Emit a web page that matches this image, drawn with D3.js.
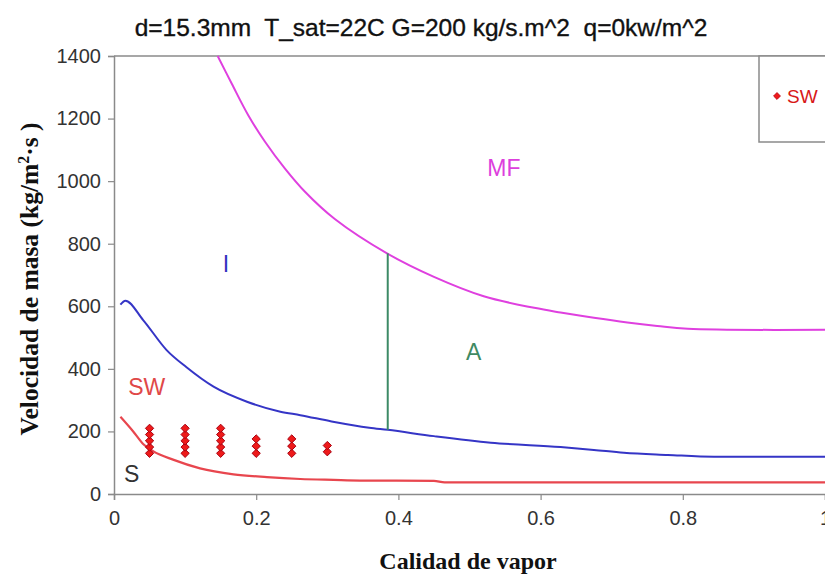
<!DOCTYPE html>
<html>
<head>
<meta charset="utf-8">
<script src="https://cdn.jsdelivr.net/npm/d3@7"></script>
<style>
  body { margin: 0; background: #fff; }
  svg { display: block; }
  text { white-space: pre; }
</style>
</head>
<body>
<svg id="chart" width="825" height="576"></svg>
<script>
// Flow pattern map: mass velocity vs. vapour quality
const titleText = "d=15.3mm  T_sat=22C G=200 kg/s.m^2  q=0kw/m^2";
const xTickValues = [0, 0.2, 0.4, 0.6, 0.8, 1];
const yTickValues = [0, 200, 400, 600, 800, 1000, 1200, 1400];

// Mist-flow (MF) boundary
const mfQuality = [0.1458, 0.1655, 0.189, 0.2124, 0.2405, 0.2686, 0.311, 0.384, 0.45, 0.52, 0.591, 0.628, 0.675, 0.722, 0.764, 0.807, 1.0];
const mfMass    = [1400, 1312, 1210, 1126, 1040, 966, 878, 769, 694, 632, 595, 580, 563, 548, 537, 528, 525];

// Intermittent / annular lower boundary (blue)
const iaQuality = [0.009, 0.016, 0.041, 0.074, 0.102, 0.14, 0.187, 0.234, 0.262, 0.306, 0.359, 0.385, 0.45, 0.53, 0.628, 0.675, 0.717, 0.779, 0.844, 1.0];
const iaMass    = [605, 618, 556, 460, 405, 343, 295, 263, 252, 232, 212, 205, 185, 164, 150, 141, 132, 125, 119, 119];

// Stratified / stratified-wavy boundary (red)
const sQuality = [0.009, 0.027, 0.041, 0.055, 0.084, 0.121, 0.168, 0.215, 0.262, 0.309, 0.346, 0.45, 0.465, 1.0];
const sMass    = [247, 200, 160, 137, 109, 82, 63, 54, 48, 45, 43, 42, 37, 37];

// Intermittent-to-annular transition (vertical)
const transitionQuality = 0.385;
const transitionMass = [205, 769];

// Observed stratified-wavy points
const swQuality = [0.05, 0.05, 0.05, 0.05, 0.05,
                   0.1, 0.1, 0.1, 0.1, 0.1,
                   0.15, 0.15, 0.15, 0.15, 0.15,
                   0.2, 0.2, 0.2,
                   0.25, 0.25, 0.25,
                   0.3, 0.3];
const swMass    = [130, 150, 170, 190, 210,
                   130, 150, 170, 190, 210,
                   130, 150, 170, 190, 210,
                   130, 153, 176,
                   130, 153, 176,
                   135, 155];

// Region labels
const regionNames = ["MF", "I", "A", "SW", "S"];
const regionQuality = [0.525, 0.153, 0.495, 0.02, 0.014];
const regionMass = [1018, 710, 428, 316, 38];
const regionColors = ["#dd3fdd", "#3434c0", "#3f8a62", "#e04848", "#333333"];

const svg = d3.select("#chart");
const plotLeft = 114, plotRight = 825, plotTop = 56, plotBottom = 494;

const x = d3.scaleLinear().domain([0, 1]).range([plotLeft, plotRight]);
const y = d3.scaleLinear().domain([0, 1400]).range([plotBottom, plotTop]);

const axisColor = "#8a8a8a";

// plot frame (top edge)
svg.append("line")
  .attr("x1", plotLeft).attr("x2", plotRight)
  .attr("y1", plotTop).attr("y2", plotTop)
  .attr("stroke", axisColor).attr("stroke-width", 1.5);

// axes
const xAxis = d3.axisBottom(x).tickValues(xTickValues).tickSize(6).tickPadding(11)
  .tickFormat(d => String(d));
const yAxis = d3.axisLeft(y).tickValues(yTickValues).tickSize(6).tickPadding(7)
  .tickFormat(d => String(d));

const gx = svg.append("g").attr("transform", `translate(0,${plotBottom})`).call(xAxis);
const gy = svg.append("g").attr("transform", `translate(${plotLeft},0)`).call(yAxis);
[gx, gy].forEach(g => {
  g.select(".domain").attr("stroke", axisColor).attr("stroke-width", 1.5);
  g.selectAll(".tick line").attr("stroke", axisColor).attr("stroke-width", 1.2);
  g.selectAll(".tick text")
    .attr("fill", "#333")
    .style("font-family", "'Liberation Sans', Arial, sans-serif")
    .style("font-size", "20px");
});

// legend box
svg.append("rect")
  .attr("x", 759).attr("y", plotTop).attr("width", 80).attr("height", 86)
  .attr("fill", "#fff").attr("stroke", axisColor).attr("stroke-width", 1.5);

// curves
function drawCurve(xs, ys, color, width, curve) {
  const line = d3.line().x(d => x(d[0])).y(d => y(d[1])).curve(curve);
  svg.append("path")
    .datum(xs.map((v, i) => [v, ys[i]]))
    .attr("d", line)
    .attr("fill", "none")
    .attr("stroke", color)
    .attr("stroke-width", width)
    .attr("stroke-linejoin", "round");
}
drawCurve(mfQuality, mfMass, "#df40df", 2, d3.curveCatmullRom.alpha(0.5));
drawCurve(iaQuality, iaMass, "#3535c6", 2, d3.curveMonotoneX);
drawCurve(sQuality, sMass, "#e8464e", 2.2, d3.curveMonotoneX);

svg.append("line")
  .attr("x1", x(transitionQuality)).attr("x2", x(transitionQuality))
  .attr("y1", y(transitionMass[0])).attr("y2", y(transitionMass[1]))
  .attr("stroke", "#3c8a66").attr("stroke-width", 2);

// diamond marker
const diamond = {
  draw(ctx, size) {
    const r = Math.sqrt(size / 2);
    ctx.moveTo(0, -r); ctx.lineTo(r, 0); ctx.lineTo(0, r); ctx.lineTo(-r, 0); ctx.closePath();
  }
};
const sym = d3.symbol().type(diamond).size(34);

svg.append("g").selectAll("path")
  .data(swQuality.map((v, i) => [v, swMass[i]]))
  .join("path")
  .attr("d", sym)
  .attr("transform", d => `translate(${x(d[0])},${y(d[1])})`)
  .attr("fill", "#ee1a1a")
  .attr("stroke", "#a80010")
  .attr("stroke-width", 1);

// region labels
svg.append("g").selectAll("text")
  .data(regionNames)
  .join("text")
  .attr("x", (d, i) => x(regionQuality[i]))
  .attr("y", (d, i) => y(regionMass[i]))
  .attr("fill", (d, i) => regionColors[i])
  .style("font-family", "'Liberation Sans', Arial, sans-serif")
  .style("font-size", "23px")
  .text(d => d);

// legend entry
svg.append("path")
  .attr("d", d3.symbol().type(diamond).size(24))
  .attr("transform", "translate(777,96)")
  .attr("fill", "#ee1a1a").attr("stroke", "#b80010").attr("stroke-width", 0.8);
svg.append("text")
  .attr("x", 787).attr("y", 103)
  .attr("fill", "#d81818")
  .style("font-family", "'Liberation Sans', Arial, sans-serif")
  .style("font-size", "19px")
  .text("SW");

// title
svg.append("text")
  .attr("x", 421).attr("y", 36)
  .attr("text-anchor", "middle")
  .attr("fill", "#111")
  .attr("stroke", "#111").attr("stroke-width", 0.35)
  .style("font-family", "'Liberation Sans', Arial, sans-serif")
  .style("font-size", "24.5px")
  .text(titleText);

// axis titles
svg.append("text")
  .attr("x", 468).attr("y", 569)
  .attr("text-anchor", "middle")
  .attr("fill", "#111")
  .style("font-family", "'Liberation Serif', 'Times New Roman', serif")
  .style("font-weight", "bold")
  .style("font-size", "24px")
  .text("Calidad de vapor");

const yTitle = svg.append("text")
  .attr("transform", "translate(38,279) rotate(-90)")
  .attr("text-anchor", "middle")
  .attr("fill", "#111")
  .style("font-family", "'Liberation Serif', 'Times New Roman', serif")
  .style("font-weight", "bold")
  .style("font-size", "25.5px");
yTitle.append("tspan").text("Velocidad de masa (kg/m");
yTitle.append("tspan").attr("dy", -9).style("font-size", "16px").text("2");
yTitle.append("tspan").attr("dy", 9).text("·s )");
</script>
</body>
</html>
